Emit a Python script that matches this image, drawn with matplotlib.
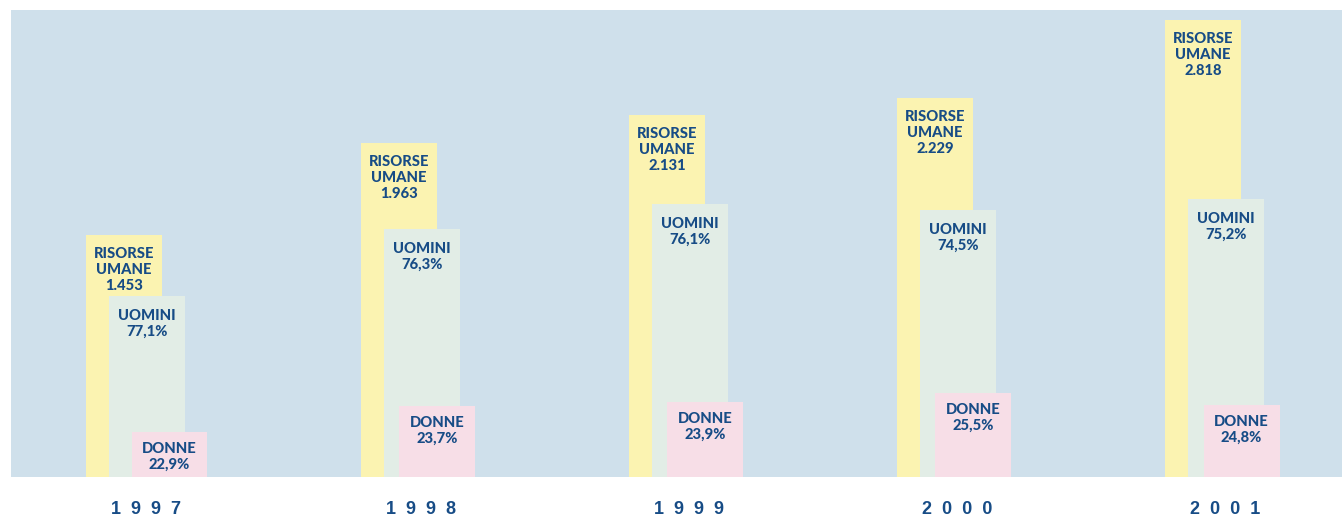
import matplotlib
matplotlib.use('Agg')
import matplotlib.pyplot as plt
import numpy as np

# data
anni = ['1997', '1998', '1999', '2000', '2001']
risorse = [1453, 1963, 2131, 2229, 2818]
uomini_pct = [77.1, 76.3, 76.1, 74.5, 75.2]
donne_pct = [22.9, 23.7, 23.9, 25.5, 24.8]

# drawn bar heights (the picture is not to scale), same units as risorse
h_risorse = [1451, 2002, 2170, 2272, 2740]
h_uomini = [1085, 1487, 1637, 1601, 1667]
h_donne = [270, 426, 450, 504, 432]

c_bg = '#cfe0eb'
c_ris = '#fbf3b1'
c_uom = '#e2ede6'
c_don = '#f7dee7'
c_txt = '#174c86'

plt.rcParams['font.family'] = ['Lato', 'DejaVu Sans']

def it_num(v):
    return f'{v:,}'.replace(',', '.')

def it_pct(v):
    return f'{v:.1f}%'.replace('.', ',')

fig = plt.figure(figsize=(13.42, 5.18), dpi=100)
ax = fig.add_axes([11 / 1342, 41 / 518, 1331 / 1342, 467 / 518])
ax.set_facecolor(c_bg)

unit = 268.0  # px between groups
w = 76 / unit
x = np.arange(len(anni), dtype=float)
shift = np.array([-7, 0, 0, 0, 0]) / unit
x_r = x + shift
x_u = x + shift + 23 / unit
x_d = x + 38.5 / unit

ax.bar(x_r, h_risorse, width=w, color=c_ris, zorder=1)
ax.bar(x_u, h_uomini, width=w, color=c_uom, zorder=2)
ax.bar(x_d, h_donne, width=w, color=c_don, zorder=3)

def lines(xc, top, texts, first=23, step=16):
    for k, t in enumerate(texts):
        ax.annotate(t, xy=(xc, top), xytext=(0, -(first + k * step)),
                    textcoords='offset pixels', ha='center', va='baseline',
                    fontsize=10.6, fontweight='black', color=c_txt, zorder=5)

for i in range(len(anni)):
    lines(x_r[i], h_risorse[i], ['RISORSE', 'UMANE', it_num(risorse[i])])
    lines(x_u[i], h_uomini[i], ['UOMINI', it_pct(uomini_pct[i])], first=24)
    lines(x_d[i], h_donne[i], ['DONNE', it_pct(donne_pct[i])], first=21)
    ax.annotate('  '.join(anni[i]), xy=(x_u[i] - 1 / unit, 0), xytext=(0, -37),
                textcoords='offset pixels', ha='center', va='baseline',
                fontsize=13, fontweight='bold', color=c_txt,
                family=['Liberation Sans', 'DejaVu Sans'], annotation_clip=False)

left = (11 - 131) / unit
ax.set_xlim(left, left + 1331 / unit)
ax.set_ylim(0, 2800)
ax.set_xticks([])
ax.set_yticks([])
for s in ax.spines.values():
    s.set_visible(False)

fig.savefig('out.png', dpi=100)
